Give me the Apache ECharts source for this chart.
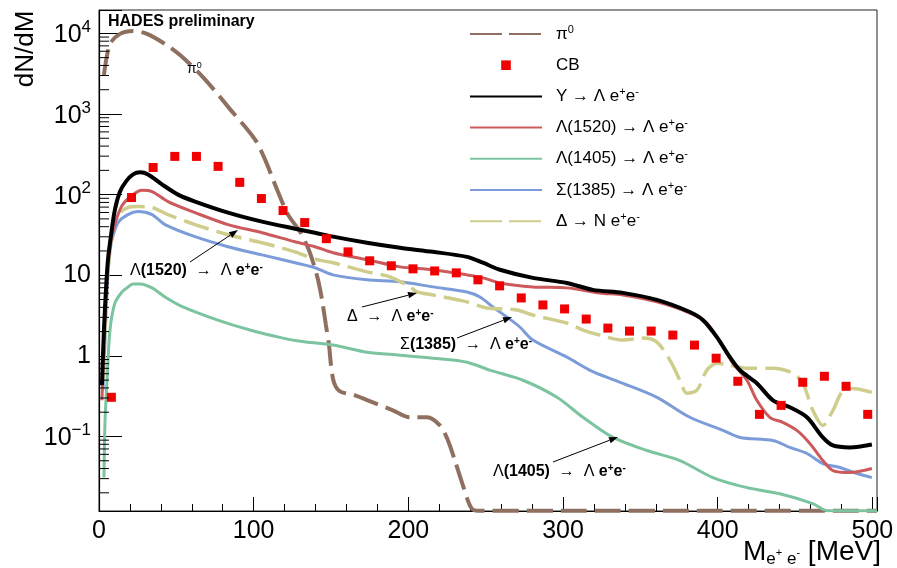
<!DOCTYPE html>
<html><head><meta charset="utf-8">
<script src="https://cdn.jsdelivr.net/npm/echarts@6/dist/echarts.min.js"></script>
<style>html,body{margin:0;padding:0;background:#fff}#c{width:897px;height:568px}</style>
</head><body><div id="c"></div>
<script>
// ---------------- data ----------------
const pi0X = [3.2, 7.1, 13.6, 22.0, 31.0, 42.7, 52.4, 67.2, 84.7, 100.8, 107.3, 115.1, 122.2, 130.0, 135.1, 138.3, 141.6, 144.2, 146.7, 148.7, 150.0, 151.9, 155.8, 165.5, 177.1, 190.0, 201.0, 212.0, 220.4, 225.6, 230.1, 234.7, 238.5, 241.1, 244.3, 300, 400, 503];
const pi0Y = [3040, 7380, 9860, 10700, 9860, 7380, 5380, 2870, 1150, 485, 274, 116, 56.5, 34.7, 21.9, 14.7, 8.77, 4.94, 2.41, 1.36, 0.766, 0.470, 0.363, 0.324, 0.265, 0.211, 0.173, 0.173, 0.137, 0.0893, 0.0503, 0.0268, 0.0160, 0.0127, 0.012, 0.012, 0.012, 0.012];

const cbX = [8, 21, 35, 49, 63, 77, 91, 105, 119, 133, 147, 161, 175, 189, 203, 217, 231, 245, 259, 273, 287, 301, 315, 329, 343, 357, 371, 385, 399, 413, 427, 441, 455, 469, 483, 497];
const cbY = [0.306, 92.0, 217, 298, 298, 224, 142, 89.4, 63.4, 45.0, 28.4, 19.5, 15.1, 13.1, 12.0, 11.3, 10.7, 8.77, 7.38, 5.23, 4.28, 3.82, 2.86, 2.21, 2.03, 2.03, 1.81, 1.36, 0.935, 0.484, 0.188, 0.243, 0.470, 0.558, 0.419, 0.188];

const yX = [1.9, 3.2, 4.5, 5.8, 7.8, 10.3, 13.6, 17.5, 22.0, 26.5, 31.7, 40.7, 51.1, 62.1, 83.4, 105.4, 126.7, 139.6, 151.3, 173.2, 194.6, 215.9, 237.9, 248.2, 259.2, 280.5, 302.5, 319.3, 338.7, 360.7, 382.0, 390.4, 399.5, 407.9, 414.4, 425.3, 435.7, 446.7, 457.7, 468.0, 474.5, 485.5, 499.7];
const yY = [0.432, 2.09, 6.58, 15.6, 31.8, 65.2, 109, 146, 178, 189, 178, 134, 100, 82.0, 59.8, 46.2, 37.8, 33.7, 30.1, 25.3, 21.9, 19.5, 16.9, 14.3, 11.7, 9.27, 8.03, 6.58, 6.04, 4.94, 3.50, 2.79, 1.71, 0.964, 0.664, 0.458, 0.281, 0.230, 0.173, 0.0973, 0.0773, 0.0731, 0.0796];

const l1520X = [1.9, 3.2, 4.5, 5.8, 7.8, 10.3, 14.9, 21.3, 27.8, 34.3, 44.6, 62.1, 83.4, 105.4, 126.7, 139.6, 151.3, 173.2, 194.6, 215.9, 237.9, 248.2, 259.2, 280.5, 302.5, 323.8, 338.7, 360.7, 382.0, 393.0, 403.4, 409.8, 418.9, 425.3, 433.7, 442.1, 451.2, 459.6, 468.0, 474.5, 485.5, 499.7];
const l1520Y = [0.282, 1.57, 5.70, 13.5, 27.6, 43.6, 73.1, 97.5, 113, 109, 82.0, 59.8, 42.5, 33.7, 26.0, 22.6, 19.0, 15.6, 12.7, 11.7, 10.1, 9.28, 8.03, 7.17, 6.97, 6.04, 5.70, 4.67, 3.40, 2.55, 1.28, 0.811, 0.498, 0.281, 0.173, 0.150, 0.119, 0.0819, 0.0503, 0.0378, 0.0357, 0.0400];

const l1405X = [3.2, 3.9, 5.2, 7.1, 10.3, 14.9, 18.1, 22.0, 26.5, 34.3, 42.7, 54.3, 76.3, 97.6, 118.9, 130.0, 151.3, 173.2, 194.6, 215.9, 237.9, 252.7, 274.1, 296.1, 312.9, 332.3, 354.2, 375.6, 396.9, 418.9, 440.2, 461.5, 470.6, 480, 503];
const l1405Y = [0.0309, 0.158, 0.498, 2.09, 4.53, 6.21, 6.97, 7.81, 7.81, 6.97, 5.38, 4.04, 2.79, 2.09, 1.66, 1.52, 1.36, 1.11, 1.02, 0.935, 0.835, 0.664, 0.498, 0.306, 0.173, 0.0973, 0.0670, 0.0503, 0.0309, 0.0232, 0.0195, 0.0147, 0.0120, 0.012, 0.012];

const s1385X = [2.6, 3.9, 5.2, 6.5, 8.4, 12.3, 18.7, 25.2, 34.3, 42.7, 62.1, 83.4, 105.4, 126.7, 139.6, 151.3, 173.2, 194.6, 215.9, 237.9, 246.3, 254.7, 263.7, 272.1, 280.5, 302.5, 319.3, 338.7, 360.7, 382.0, 403.4, 414.4, 435.7, 446.7, 457.7, 468.0, 479.0, 490.0, 499.7];
const s1385Y = [0.374, 1.57, 6.58, 15.6, 27.6, 45.0, 56.5, 61.6, 56.5, 42.5, 30.1, 22.6, 17.9, 14.3, 12.4, 10.1, 8.77, 8.28, 7.17, 6.21, 5.38, 4.04, 3.03, 2.28, 1.57, 0.964, 0.636, 0.457, 0.306, 0.173, 0.119, 0.0973, 0.0893, 0.0731, 0.0615, 0.0462, 0.0412, 0.0347, 0.0309];

const deltaX = [2.6, 3.9, 5.2, 7.1, 9.7, 13.6, 18.7, 25.2, 34.3, 44.6, 62.1, 83.4, 105.4, 126.7, 140.9, 151.3, 173.2, 188.1, 201.0, 205.6, 215.9, 237.9, 250.8, 270.2, 280.5, 302.5, 312.9, 323.8, 338.7, 351.6, 360.7, 369.1, 375.6, 380.1, 386.6, 393.0, 399.5, 407.9, 418.9, 435.7, 448.6, 455.1, 461.5, 468.0, 474.5, 481.0, 487.4, 499.7];
const deltaY = [0.498, 2.09, 7.59, 20.7, 42.5, 59.8, 69.1, 71.1, 69.1, 56.5, 42.5, 31.8, 25.3, 19.5, 15.6, 14.3, 11.0, 9.55, 7.17, 6.21, 5.70, 4.67, 3.93, 3.71, 3.21, 2.55, 2.09, 1.81, 1.57, 1.66, 1.48, 0.885, 0.498, 0.344, 0.375, 0.664, 0.811, 0.766, 0.703, 0.703, 0.609, 0.457, 0.211, 0.137, 0.211, 0.373, 0.395, 0.352];

const xTickLabels = [0, 100, 200, 300, 400, 500];
const yMinorTicks = [0.02, 0.03, 0.04, 0.05, 0.06, 0.07, 0.08, 0.09,
  0.2, 0.3, 0.4, 0.5, 0.6, 0.7, 0.8, 0.9, 2, 3, 4, 5, 6, 7, 8, 9,
  20, 30, 40, 50, 60, 70, 80, 90, 200, 300, 400, 500, 600, 700, 800, 900,
  2000, 3000, 4000, 5000, 6000, 7000, 8000, 9000];

const legendKeys = ['pi0', 'CB', 'Y', 'L1520', 'L1405', 'S1385', 'Delta'];
const legendLabels = {
  pi0: 'π{s|0}',
  CB: 'CB',
  Y: 'Y → Λ e{s|+}e{s|-}',
  L1520: 'Λ(1520) → Λ e{s|+}e{s|-}',
  L1405: 'Λ(1405) → Λ e{s|+}e{s|-}',
  S1385: 'Σ(1385) → Λ e{s|+}e{s|-}',
  Delta: 'Δ → N e{s|+}e{s|-}'
};

// ---------------- chart ----------------
const FONT = '"Liberation Sans", Arial, Helvetica, sans-serif';
const pairs = (xs, ys) => xs.map((x, i) => [x, ys[i]]);
const chart = echarts.init(document.getElementById('c'), null, {renderer: 'canvas'});

function arrow(x1, y1, x2, y2) {
  const a = Math.atan2(y2 - y1, x2 - x1), L = 9, W = 3.2;
  const bx = x2 - L * Math.cos(a), by = y2 - L * Math.sin(a);
  return [
    {type: 'line', z: 50, shape: {x1: x1, y1: y1, x2: bx, y2: by}, style: {stroke: '#000', lineWidth: 1}},
    {type: 'polygon', z: 50, shape: {points: [[x2, y2], [bx + W * Math.sin(a), by - W * Math.cos(a)], [bx - W * Math.sin(a), by + W * Math.cos(a)]]}, style: {fill: '#000'}}
  ];
}
const annRich = {
  r: {fontSize: 16, fontFamily: FONT, fill: '#000'},
  b: {fontSize: 16, fontWeight: 'bold', fontFamily: FONT, fill: '#000'},
  bs: {fontSize: 10, fontWeight: 'bold', fontFamily: FONT, verticalAlign: 'top', lineHeight: 10, fill: '#000'}
};
function ann(x, y, text) {
  return {type: 'text', z: 50, x: x, y: y, style: {text: text, rich: annRich, align: 'left', verticalAlign: 'middle', lineHeight: 18, fill: '#000', font: '16px ' + FONT}};
}
const eepm = '{b|e}{bs|+}{b|e}{bs|-}';

const graphics = [].concat(
  [{type: 'text', z: 50, x: 108, y: 22, style: {text: 'HADES preliminary', font: 'bold 16px ' + FONT, fill: '#000', align: 'left', verticalAlign: 'middle'}}],
  [{type: 'text', z: 50, x: 26, y: 49, rotation: Math.PI / 2, style: {text: 'dN/dM', font: '26px ' + FONT, fill: '#000', align: 'center', verticalAlign: 'middle'}}],
  [{type: 'text', z: 50, x: 881, y: 536, style: {
      text: '{m|M}{sb|e}{sp|+}{sb| e}{sp|-}{m| [MeV]}', align: 'right', verticalAlign: 'top',
      rich: {
        m: {fontSize: 28, fontFamily: FONT, lineHeight: 32, verticalAlign: 'middle', fill: '#000'},
        sb: {fontSize: 17, fontFamily: FONT, lineHeight: 17, verticalAlign: 'bottom', fill: '#000'},
        sp: {fontSize: 11, fontFamily: FONT, lineHeight: 11, padding: [0, 0, 10, 0], verticalAlign: 'bottom', fill: '#000'}
      }}}],
  [{type: 'text', z: 50, x: 187, y: 69, style: {text: '{r|π}{s|0}', verticalAlign: 'middle', rich: {
      r: {fontSize: 14, fontFamily: FONT, lineHeight: 16, fill: '#000'},
      s: {fontSize: 9, fontFamily: FONT, lineHeight: 9, verticalAlign: 'top', fill: '#000'}}}}],
  [ann(130, 271, '{r|Λ}{b|(1520)}{r|  →  Λ }' + eepm)],
  arrow(190, 262, 238, 230),
  [ann(347, 317, '{r|Δ  →  Λ }' + eepm)],
  arrow(362, 307, 417, 293),
  [ann(400, 345, '{r|Σ}{b|(1385)}{r|  →  Λ }' + eepm)],
  arrow(457, 338, 512, 317),
  [ann(493, 472, '{r|Λ}{b|(1405)}{r|  →  Λ }' + eepm)],
  arrow(553, 462, 618, 437)
);

const curveColors = {pi0: '#8e6f60', CB: '#f00000', Y: '#000000', L1520: '#cc5a5c', L1405: '#7cc4a0', S1385: '#7b9cd9', Delta: '#cfcd8c'};

const option = {
  animation: false,
  backgroundColor: '#fff',
  grid: {left: 99, right: 20, top: 10, bottom: 57, show: true, borderColor: '#222', borderWidth: 1, backgroundColor: 'transparent'},
  xAxis: {
    type: 'value', min: 0, max: 503, interval: 100,
    axisLine: {show: true, onZero: false, lineStyle: {color: '#000', width: 1.2}},
    axisTick: {show: true, inside: true, length: 14, lineStyle: {color: '#000', width: 1}},
    minorTick: {show: true, splitNumber: 5, length: 7, lineStyle: {color: '#000', width: 1}},
    splitLine: {show: false},
    axisLabel: {fontSize: 25, fontFamily: FONT, color: '#000', margin: 8,
      formatter: v => (xTickLabels.indexOf(Math.round(v)) >= 0 && Math.abs(v - Math.round(v)) < 1e-6) ? String(Math.round(v)) : ''}
  },
  yAxis: {
    type: 'log', logBase: 10, min: 0.0119, max: 19500,
    axisLine: {show: true, onZero: false, lineStyle: {color: '#000', width: 1.2}},
    axisTick: {show: true, inside: true, length: 23, lineStyle: {color: '#000', width: 1}},
    splitLine: {show: false},
    axisLabel: {
      margin: 8, color: '#000',
      formatter: v => {
        const lg = Math.log10(v), e = Math.round(lg);
        if (Math.abs(lg - e) > 1e-6) return '';
        if (e === 0) return '{b|1}';
        if (e === 1) return '{b|10}';
        return '{b|10}{s|' + (e < 0 ? '−' : '') + Math.abs(e) + '}';
      },
      rich: {
        b: {fontSize: 25, fontFamily: FONT, color: '#000', verticalAlign: 'bottom'},
        s: {fontSize: 17, fontFamily: FONT, color: '#000', padding: [0, 0, 12, 0], verticalAlign: 'top'}
      }
    }
  },
  legend: {
    orient: 'vertical', left: 469, top: 24, padding: 0, itemWidth: 72, itemHeight: 12, itemGap: 11.2,
    selectedMode: false,
    data: [
      {name: 'pi0', itemStyle: {opacity: 0}, lineStyle: {type: [32, 7]}},
      {name: 'CB', lineStyle: {opacity: 0, width: 0}},
      {name: 'Y', itemStyle: {opacity: 0}},
      {name: 'L1520', itemStyle: {opacity: 0}},
      {name: 'L1405', itemStyle: {opacity: 0}},
      {name: 'S1385', itemStyle: {opacity: 0}},
      {name: 'Delta', itemStyle: {opacity: 0}, lineStyle: {type: [32, 7]}}
    ],
    formatter: n => '{g| }' + legendLabels[n],
    textStyle: {fontSize: 17, fontFamily: FONT, color: '#000', lineHeight: 20,
      rich: {g: {width: 9}, s: {fontSize: 11, fontFamily: FONT, lineHeight: 11, verticalAlign: 'top', color: '#000'}}}
  },
  series: [
    {name: 'pi0', type: 'line', data: pairs(pi0X, pi0Y), symbol: 'none', smooth: 0.3, z: 2,
      lineStyle: {color: curveColors.pi0, width: 4, type: [26, 8]}, itemStyle: {color: curveColors.pi0}},
    {name: 'L1405', type: 'line', data: pairs(l1405X, l1405Y), symbol: 'none', smooth: 0.3, z: 3,
      lineStyle: {color: curveColors.L1405, width: 3}, itemStyle: {color: curveColors.L1405}},
    {name: 'S1385', type: 'line', data: pairs(s1385X, s1385Y), symbol: 'none', smooth: 0.3, z: 3,
      lineStyle: {color: curveColors.S1385, width: 3}, itemStyle: {color: curveColors.S1385}},
    {name: 'Delta', type: 'line', data: pairs(deltaX, deltaY), symbol: 'none', smooth: 0.3, z: 3,
      lineStyle: {color: curveColors.Delta, width: 3.5, type: [26, 8]}, itemStyle: {color: curveColors.Delta}},
    {name: 'L1520', type: 'line', data: pairs(l1520X, l1520Y), symbol: 'none', smooth: 0.3, z: 4,
      lineStyle: {color: curveColors.L1520, width: 3}, itemStyle: {color: curveColors.L1520}},
    {name: 'Y', type: 'line', data: pairs(yX, yY), symbol: 'none', smooth: 0.3, z: 5,
      lineStyle: {color: curveColors.Y, width: 4}, itemStyle: {color: curveColors.Y}},
    {name: 'CB', type: 'line', data: pairs(cbX, cbY), symbol: 'rect', symbolSize: 9, showSymbol: true, showAllSymbol: true, z: 6,
      lineStyle: {width: 0, opacity: 0}, itemStyle: {color: curveColors.CB}},
    {name: 'yMinorTicks', type: 'custom', silent: true, z: 7,
      data: yMinorTicks.map(v => [0, v]),
      renderItem: (params, api) => {
        const p = api.coord([0, api.value(1)]);
        return {type: 'line', shape: {x1: p[0], y1: p[1], x2: p[0] + 10, y2: p[1]}, style: {stroke: '#000', lineWidth: 1}};
      }}
  ],
  graphic: graphics
};
chart.setOption(option);
</script>
</body></html>
